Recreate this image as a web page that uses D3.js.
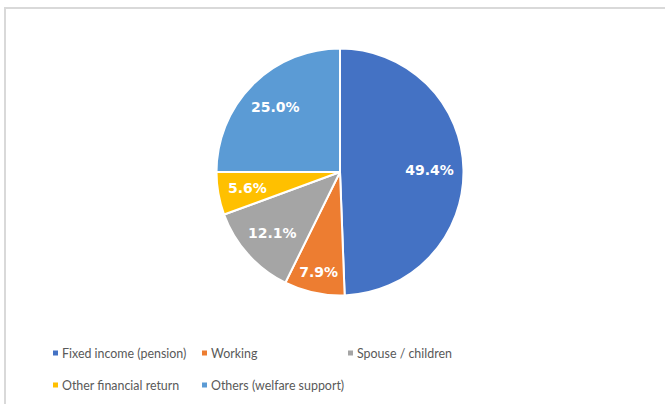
<!DOCTYPE html>
<html>
<head>
<meta charset="utf-8">
<script src="https://cdn.jsdelivr.net/npm/d3@7"></script>
<style>
  html, body { margin: 0; padding: 0; background: #fff; }
  svg { display: block; }
</style>
</head>
<body>
<svg id="chart" width="665" height="404"></svg>
<script>
const categories = ["Fixed income (pension)", "Working", "Spouse / children", "Other financial return", "Others (welfare support)"];
const values = [49.4, 7.9, 12.1, 5.6, 25.0];
const valueLabels = ["49.4%", "7.9%", "12.1%", "5.6%", "25.0%"];
const colors = ["#4472C4", "#ED7D31", "#A5A5A5", "#FFC000", "#5B9BD5"];

const svg = d3.select("#chart");
const W = 665, H = 404;

// outer frame
svg.append("rect").attr("x", 5).attr("y", 8).attr("width", W).attr("height", H)
  .attr("fill", "#fff").attr("stroke", "#d9d9d9").attr("stroke-width", 2);

const cx = 340, cy = 172, r = 123.5;
const data = categories.map((c, i) => ({ name: c, value: values[i], label: valueLabels[i], color: colors[i] }));

const pie = d3.pie().value(d => d.value).sort(null);
const arc = d3.arc().innerRadius(0).outerRadius(r);
const arcs = pie(data);

const g = svg.append("g").attr("transform", `translate(${cx},${cy})`);
g.selectAll("path").data(arcs).join("path")
  .attr("d", arc)
  .attr("fill", d => d.data.color)
  .attr("stroke", "#fff")
  .attr("stroke-width", 2)
  .attr("stroke-linejoin", "round");

// labels: "inside end" placement
const pad = 9;
const labels = g.selectAll("text.lbl").data(arcs).join("text")
  .attr("class", "lbl")
  .attr("text-anchor", "middle")
  .attr("dominant-baseline", "central")
  .attr("font-family", "'DejaVu Sans', Verdana, sans-serif")
  .attr("font-weight", "bold")
  .attr("font-size", 14)
  .attr("fill", "#fff")
  .text(d => d.data.label);

labels.each(function(d) {
  const bb = this.getBBox();
  const hw = bb.width / 2, hh = 7;
  const a = (d.startAngle + d.endAngle) / 2;
  const ux = Math.sin(a), uy = -Math.cos(a);
  let best = 0;
  for (let t = 0; t <= r; t += 0.5) {
    const x = ux * t, y = uy * t;
    const fx = x + Math.sign(ux) * hw, fy = y + Math.sign(uy) * hh;
    if (Math.hypot(fx, fy) <= r - pad) best = t; else break;
  }
  d3.select(this).attr("x", ux * best).attr("y", uy * best);
});

// legend
const legendPos = [
  [53, 353], [202, 353], [348, 353],
  [53, 385], [202, 385]
];
const lg = svg.append("g");
data.forEach((d, i) => {
  const [x, y] = legendPos[i];
  lg.append("rect").attr("x", x).attr("y", y - 2.5).attr("width", 5).attr("height", 5).attr("fill", d.color);
  const t = lg.append("text").attr("x", x + 9).attr("y", y)
    .attr("dominant-baseline", "central")
    .attr("font-family", "Lato, 'Open Sans', sans-serif")
    .attr("font-size", 13.5)
    .attr("fill", "#595959")
    .text(d.name);
  const w = t.node().getComputedTextLength();
  t.attr("textLength", w * 0.92).attr("lengthAdjust", "spacingAndGlyphs");
});
</script>
</body>
</html>
